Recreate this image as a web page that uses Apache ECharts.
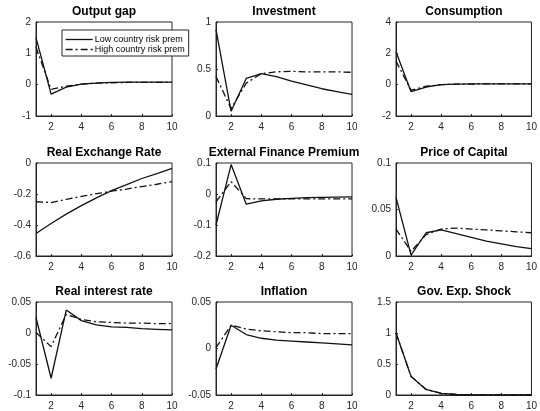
<!DOCTYPE html>
<html>
<head>
<meta charset="utf-8">
<script src="https://cdn.jsdelivr.net/npm/echarts@6/dist/echarts.min.js"></script>
<style>
html,body{margin:0;padding:0;background:#fff;}
#chart{width:540px;height:411px;}
</style>
</head>
<body>
<div id="chart"></div>
<script>
// ---- Data ----
const periods = [1,2,3,4,5,6,7,8,9,10];
const xTicks = [2,4,6,8,10];
const seriesNames = ['Low country risk prem', 'High country risk prem'];
const panelTitles = ['Output gap','Investment','Consumption','Real Exchange Rate','External Finance Premium','Price of Capital','Real interest rate','Inflation','Gov. Exp. Shock'];

const outputGapLow  = [1.5, -0.3, -0.08, 0.02, 0.05, 0.07, 0.08, 0.08, 0.08, 0.08];
const outputGapHigh = [1.2, -0.15, -0.05, 0.02, 0.05, 0.06, 0.07, 0.07, 0.07, 0.07];
const investmentLow  = [0.92, 0.05, 0.40, 0.45, 0.42, 0.37, 0.33, 0.29, 0.26, 0.23];
const investmentHigh = [0.42, 0.08, 0.35, 0.45, 0.47, 0.475, 0.47, 0.47, 0.47, 0.465];
const consumptionLow  = [2.1, -0.45, -0.15, 0.0, 0.03, 0.05, 0.05, 0.05, 0.05, 0.05];
const consumptionHigh = [1.5, -0.35, -0.1, 0.0, 0.03, 0.04, 0.05, 0.05, 0.05, 0.05];
const rerLow  = [-0.455, -0.39, -0.33, -0.275, -0.225, -0.178, -0.14, -0.10, -0.068, -0.035];
const rerHigh = [-0.25, -0.255, -0.235, -0.215, -0.198, -0.182, -0.168, -0.152, -0.137, -0.12];
const efpLow  = [-0.10, 0.095, -0.033, -0.022, -0.017, -0.014, -0.012, -0.011, -0.010, -0.009];
const efpHigh = [-0.025, 0.04, -0.015, -0.016, -0.016, -0.016, -0.016, -0.016, -0.016, -0.016];
const pocLow  = [0.063, 0.001, 0.025, 0.028, 0.024, 0.020, 0.016, 0.013, 0.010, 0.008];
const pocHigh = [0.029, 0.005, 0.023, 0.029, 0.030, 0.029, 0.028, 0.027, 0.026, 0.025];
const rirLow  = [0.025, -0.073, 0.037, 0.020, 0.013, 0.010, 0.009, 0.007, 0.006, 0.005];
const rirHigh = [0.001, -0.022, 0.030, 0.022, 0.018, 0.017, 0.016, 0.016, 0.015, 0.015];
const inflLow  = [-0.022, 0.025, 0.015, 0.011, 0.009, 0.008, 0.007, 0.006, 0.005, 0.004];
const inflHigh = [0.001, 0.025, 0.021, 0.019, 0.018, 0.017, 0.017, 0.016, 0.016, 0.016];
const govLow  = [1.0, 0.30, 0.09, 0.027, 0.008, 0.0024, 0.0007, 0.0002, 0.0001, 0.0];
const govHigh = [1.0, 0.30, 0.09, 0.027, 0.008, 0.0024, 0.0007, 0.0002, 0.0001, 0.0];

const yMins = [-1, 0, -2, -0.6, -0.2, 0, -0.1, -0.05, 0];
const yMaxs = [2, 1, 4, 0, 0.1, 0.1, 0.05, 0.05, 1.5];
const yIntervals = [1, 0.5, 2, 0.2, 0.1, 0.05, 0.05, 0.05, 0.5];

const lowData  = [outputGapLow, investmentLow, consumptionLow, rerLow, efpLow, pocLow, rirLow, inflLow, govLow];
const highData = [outputGapHigh, investmentHigh, consumptionHigh, rerHigh, efpHigh, pocHigh, rirHigh, inflHigh, govHigh];

// ---- Layout ----
const colLeft = [36, 216, 396];
const rowTop = [22, 163, 302];
const plotW = 136, plotH = 93;
const axisColor = '#262626';
const fontFam = '"Liberation Sans", Arial, Helvetica, sans-serif';

const grids = [], xAxes = [], yAxes = [], series = [], titles = [];
for (let i = 0; i < 9; i++) {
  const c = i % 3, r = Math.floor(i / 3);
  grids.push({left: colLeft[c], top: rowTop[r], width: plotW, height: r === 0 ? 94 : plotH,
    show: true, borderColor: axisColor, borderWidth: 1, backgroundColor: '#fff', containLabel: false});
  xAxes.push({type: 'value', gridIndex: i, min: 1, max: 10, interval: 1,
    axisLine: {show: true, onZero: false, lineStyle: {color: axisColor, width: 1}},
    axisTick: {show: true, inside: true, length: 2, customValues: xTicks, lineStyle: {color: axisColor}},
    axisLabel: {show: true, customValues: xTicks, color: axisColor, fontSize: 10, fontFamily: fontFam, margin: 6,
      formatter: v => (v % 2 === 0 ? String(v) : '')},
    splitLine: {show: false}});
  yAxes.push({type: 'value', gridIndex: i, min: yMins[i], max: yMaxs[i], interval: yIntervals[i],
    axisLine: {show: true, onZero: false, lineStyle: {color: axisColor, width: 1}},
    axisTick: {show: true, inside: true, length: 2, lineStyle: {color: axisColor}},
    axisLabel: {color: axisColor, fontSize: 10, fontFamily: fontFam, margin: 5,
      formatter: v => String(Math.round(v * 1000) / 1000)},
    splitLine: {show: false}});
  series.push({name: seriesNames[0], type: 'line', xAxisIndex: i, yAxisIndex: i, symbol: 'none',
    data: periods.map((p, k) => [p, lowData[i][k]]),
    lineStyle: {color: '#111', width: 1.3, type: 'solid'}, itemStyle: {color: '#111'}, z: 3});
  series.push({name: seriesNames[1], type: 'line', xAxisIndex: i, yAxisIndex: i, symbol: 'none',
    data: periods.map((p, k) => [p, highData[i][k]]),
    lineStyle: {color: '#111', width: 1.3, type: [7, 3, 2, 3]}, itemStyle: {color: '#111'}, z: 2});
  titles.push({text: panelTitles[i], left: colLeft[c] + plotW / 2, top: rowTop[r] - 16, textAlign: 'center',
    padding: 0, textStyle: {fontSize: 12, fontWeight: 'bold', color: '#000', fontFamily: fontFam}});
}

const chart = echarts.init(document.getElementById('chart'), null, {renderer: 'canvas'});
chart.setOption({
  animation: false,
  backgroundColor: '#fff',
  title: titles,
  grid: grids,
  xAxis: xAxes,
  yAxis: yAxes,
  legend: {
    data: seriesNames, orient: 'vertical', left: 62, top: 30,
    backgroundColor: '#fff', borderColor: axisColor, borderWidth: 1,
    padding: [5, 4, 2, 3], itemGap: 1, itemWidth: 27, itemHeight: 9,
    itemStyle: {opacity: 0, borderWidth: 0},
    lineStyle: {width: 1.3},
    textStyle: {fontSize: 9, color: '#000', fontFamily: fontFam, padding: [0, 0, 0, -3]},
    z: 10
  },
  series: series
});
</script>
</body>
</html>
